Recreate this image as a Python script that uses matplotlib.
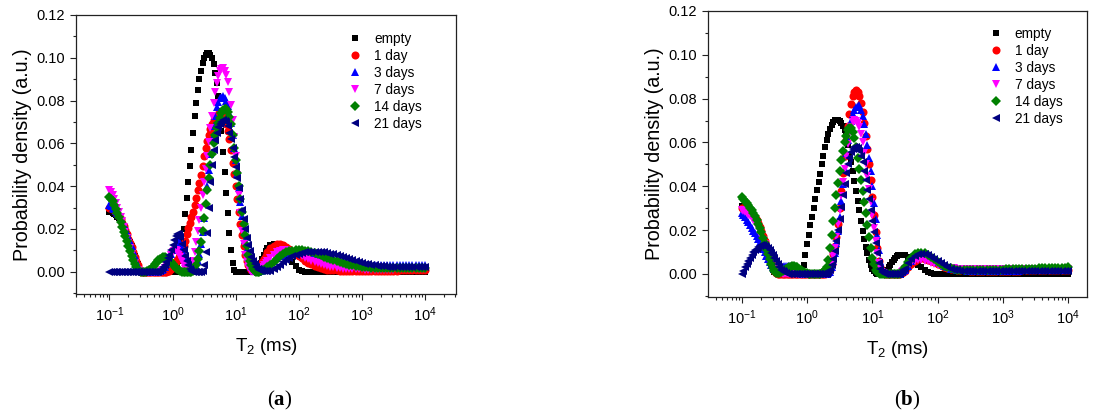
import numpy as np
import matplotlib
matplotlib.use("Agg")
import matplotlib.pyplot as plt
from matplotlib.ticker import MultipleLocator, FixedLocator, FormatStrFormatter, LogFormatterSciNotation

plt.rcParams['font.family'] = ['Liberation Sans', 'DejaVu Sans']
plt.rcParams['mathtext.fontset'] = 'custom'
plt.rcParams['mathtext.rm'] = 'Liberation Sans'
plt.rcParams['mathtext.it'] = 'Liberation Sans:italic'
plt.rcParams['mathtext.bf'] = 'Liberation Serif:bold'

# T2 sampling grid (ms): 40 pts/decade for 0.1..31.6 ms, 20 pts/decade for 35.5..10^4 ms
T2 = np.concatenate([np.logspace(-1, 1.5, 101), np.logspace(1.55, 4, 50)])

labels = ["empty", "1 day", "3 days", "7 days", "14 days", "21 days"]
colors = ["#000000", "#FF0000", "#0000FF", "#FF00FF", "#008000", "#000080"]
markers = ["s", "o", "^", "v", "D", "<"]

# ---------------- panel (a) ----------------
a_empty = [0.028, 0.0278, 0.0275, 0.027, 0.0265, 0.0258, 0.025, 0.0238, 0.0225, 0.021, 0.0195, 0.0178, 0.016, 0.014, 0.012, 0.0098, 0.0075, 0.0055, 0.0035, 0.0018, 0.0005,
           0, 0, 0, 0, 0, 0, 0, 0, 0, 0, 0, 0, 0, 0, 0, 0, 0, 0, 0, 0,
           0, 0, 0.002, 0.005, 0.009, 0.014, 0.020, 0.027, 0.0345, 0.042, 0.0495, 0.057, 0.065, 0.073, 0.079, 0.085, 0.090, 0.094, 0.0975, 0.100,
           0.1015, 0.1023, 0.1022, 0.1015, 0.0998, 0.097, 0.093, 0.088, 0.082, 0.075, 0.066, 0.056, 0.0465, 0.037, 0.0275, 0.018, 0.010, 0.004, 0.001, 0,
           0, 0, 0, 0, 0, 0, 0, 0, 0, 0, 0, 0, 0, 0, 0.0015, 0.004, 0.006, 0.008, 0.0097, 0.011,
           0.0125, 0.013, 0.0125, 0.0115, 0.010, 0.0085, 0.0065, 0.0045, 0.0025, 0.001, 0.0003, 0, 0, 0, 0, 0, 0, 0, 0, 0,
           0, 0, 0, 0, 0, 0, 0, 0, 0, 0, 0, 0, 0, 0, 0, 0, 0, 0, 0, 0, 0, 0, 0, 0, 0, 0, 0, 0, 0, 0]
a_1d = [0.030, 0.0298, 0.0295, 0.0288, 0.028, 0.027, 0.026, 0.0246, 0.023, 0.0213, 0.0195, 0.0175, 0.0155, 0.0135, 0.0115, 0.0092, 0.007, 0.005, 0.003, 0.0012, 0,
        0, 0, 0, 0, 0, 0, 0, 0, 0, 0, 0, 0, 0, 0, 0, 0, 0.0002, 0.0005, 0.0012, 0.002,
        0.003, 0.0045, 0.0057, 0.007, 0.0083, 0.0098, 0.012, 0.0145, 0.0175, 0.0205, 0.023, 0.0257, 0.028, 0.031, 0.0345, 0.038, 0.0415, 0.045, 0.0495, 0.054,
        0.058, 0.061, 0.064, 0.0665, 0.069, 0.071, 0.0722, 0.073, 0.0737, 0.074, 0.0737, 0.073, 0.0715, 0.069, 0.066, 0.062, 0.057, 0.051, 0.0455, 0.040,
        0.034, 0.028, 0.0225, 0.017, 0.012, 0.008, 0.005, 0.003, 0.0018, 0.001, 0.0006, 0.0005, 0.0006, 0.001, 0.0018, 0.003, 0.0045, 0.006, 0.0075, 0.009,
        0.011, 0.0122, 0.0128, 0.0128, 0.0123, 0.0115, 0.0105, 0.0093, 0.0082, 0.0072, 0.0062, 0.0052, 0.0043, 0.0035, 0.0028, 0.0022, 0.0017, 0.0013, 0.001, 0.0008,
        0.0007, 0.0006, 0.0005, 0.0005, 0.0004, 0.0004, 0.0004, 0.0004, 0.0004, 0.0004, 0.0004, 0.0004, 0.0004, 0.0004, 0.0004,
        0.0005, 0.0005, 0.0005, 0.0005, 0.0005, 0.0005, 0.0006, 0.0006, 0.0006, 0.0006, 0.0007, 0.0007, 0.0007, 0.0008, 0.0008]
a_3d = [0.031, 0.0306, 0.030, 0.0293, 0.0285, 0.0276, 0.0265, 0.0253, 0.024, 0.0223, 0.0205, 0.0186, 0.0165, 0.0143, 0.012, 0.0097, 0.0075, 0.0052, 0.003, 0.0015, 0.0005,
        0, 0, 0, 0, 0, 0, 0, 0, 0, 0, 0.0002, 0.0005, 0.001, 0.0015, 0.0024, 0.0035, 0.005, 0.0065, 0.0082, 0.010,
        0.012, 0.0135, 0.0143, 0.0145, 0.0133, 0.011, 0.0085, 0.006, 0.0038, 0.002, 0.0008, 0.0003, 0.0005, 0.001, 0.0025, 0.005, 0.0085, 0.013, 0.0185, 0.025,
        0.032, 0.040, 0.0475, 0.055, 0.062, 0.068, 0.073, 0.077, 0.0795, 0.081, 0.0818, 0.082, 0.0813, 0.080, 0.0775, 0.074, 0.0695, 0.064, 0.058, 0.052,
        0.0455, 0.039, 0.0325, 0.026, 0.0203, 0.015, 0.0105, 0.007, 0.004, 0.002, 0.001, 0.0005, 0.0002, 0, 0.0002, 0.0005, 0.0009, 0.0013, 0.0019, 0.0025,
        0.0038, 0.005, 0.0062, 0.0072, 0.008, 0.0086, 0.009, 0.0092, 0.0093, 0.0093, 0.0091, 0.0088, 0.0085, 0.0081, 0.0077, 0.0073, 0.0069, 0.0065, 0.0061, 0.0057,
        0.0053, 0.0049, 0.0046, 0.0043, 0.0041, 0.0039, 0.0037, 0.0035, 0.0034, 0.0033, 0.0032, 0.0031, 0.0031, 0.003, 0.003,
        0.003, 0.003, 0.003, 0.003, 0.003, 0.003, 0.003, 0.003, 0.003, 0.003, 0.003, 0.003, 0.003, 0.003, 0.003]
a_7d = [0.038, 0.0373, 0.036, 0.0342, 0.032, 0.030, 0.028, 0.0258, 0.0235, 0.021, 0.0185, 0.016, 0.0135, 0.011, 0.0085, 0.006, 0.004, 0.002, 0.0008, 0.0002, 0,
        0, 0, 0, 0, 0, 0, 0, 0, 0, 0, 0, 0, 0.0004, 0.001, 0.0018, 0.003, 0.0047, 0.0065, 0.008, 0.0092,
        0.0099, 0.010, 0.0096, 0.0085, 0.0068, 0.005, 0.003, 0.0015, 0.0005, 0, 0.0006, 0.002, 0.005, 0.009, 0.0138, 0.019, 0.0243, 0.030, 0.036, 0.042,
        0.048, 0.054, 0.0605, 0.067, 0.073, 0.079, 0.084, 0.088, 0.0915, 0.094, 0.0948, 0.095, 0.094, 0.092, 0.0885, 0.084, 0.078, 0.071, 0.063, 0.054,
        0.045, 0.036, 0.0275, 0.019, 0.013, 0.008, 0.0045, 0.002, 0.0008, 0, 0, 0, 0.0002, 0.0005, 0.001, 0.0015, 0.0022, 0.003, 0.0039, 0.0048,
        0.0065, 0.008, 0.009, 0.0097, 0.010, 0.010, 0.0098, 0.0093, 0.0087, 0.008, 0.0073, 0.0066, 0.0059, 0.0052, 0.0046, 0.004, 0.0035, 0.003, 0.0026, 0.0023,
        0.002, 0.0018, 0.0016, 0.0015, 0.0014, 0.0013, 0.0012, 0.0012, 0.0011, 0.0011, 0.001, 0.001, 0.001, 0.001, 0.001,
        0.001, 0.001, 0.001, 0.001, 0.001, 0.0011, 0.0011, 0.0011, 0.0011, 0.0011, 0.0012, 0.0012, 0.0012, 0.0012, 0.0012]
a_14d = [0.035, 0.0342, 0.033, 0.0314, 0.0295, 0.0276, 0.0255, 0.0233, 0.021, 0.0188, 0.0165, 0.0143, 0.012, 0.0097, 0.0075, 0.0055, 0.0035, 0.002, 0.0008, 0.0002, 0,
         0, 0, 0.0001, 0.0003, 0.0006, 0.001, 0.0017, 0.0025, 0.0035, 0.0045, 0.0053, 0.006, 0.0065, 0.0068, 0.0068, 0.0065, 0.0059, 0.0052, 0.0044, 0.0035,
         0.0026, 0.0018, 0.0011, 0.0006, 0.0002, 0, 0, 0, 0, 0, 0, 0, 0.0004, 0.001, 0.003, 0.006, 0.0095, 0.014, 0.019, 0.025,
         0.0315, 0.038, 0.044, 0.050, 0.055, 0.060, 0.0637, 0.067, 0.0697, 0.072, 0.074, 0.0755, 0.0761, 0.076, 0.0748, 0.0725, 0.069, 0.064, 0.058, 0.052,
         0.046, 0.040, 0.034, 0.028, 0.0225, 0.017, 0.012, 0.008, 0.0052, 0.003, 0.0015, 0.0005, 0.0001, 0, 0.0001, 0.0003, 0.0006, 0.001, 0.0015, 0.002,
         0.0033, 0.0046, 0.006, 0.0072, 0.0082, 0.009, 0.0095, 0.0099, 0.0101, 0.0102, 0.0101, 0.0099, 0.0096, 0.0092, 0.0087, 0.0082, 0.0077, 0.0071, 0.0066, 0.006,
         0.0055, 0.005, 0.0045, 0.0041, 0.0037, 0.0033, 0.003, 0.0027, 0.0025, 0.0023, 0.0021, 0.002, 0.0019, 0.0018, 0.0017,
         0.0016, 0.0016, 0.0016, 0.0016, 0.0016, 0.0016, 0.0016, 0.0016, 0.0016, 0.0016, 0.0016, 0.0016, 0.0016, 0.0016, 0.0016]
a_21d = [0, 0, 0, 0, 0, 0, 0, 0, 0, 0, 0, 0, 0, 0, 0, 0, 0, 0, 0, 0, 0,
         0, 0, 0, 0, 0, 0, 0, 0, 0, 0, 0.0001, 0.0005, 0.0011, 0.002, 0.0031, 0.0045, 0.0062, 0.008, 0.0102, 0.0125,
         0.0148, 0.0168, 0.0178, 0.0178, 0.0162, 0.013, 0.0102, 0.0075, 0.005, 0.003, 0.0014, 0.0005, 0.0001, 0, 0, 0, 0, 0, 0.0005, 0.003,
         0.009, 0.018, 0.030, 0.042, 0.050, 0.057, 0.0615, 0.065, 0.0675, 0.069, 0.0702, 0.0707, 0.0706, 0.070, 0.068, 0.065, 0.062, 0.058, 0.0537, 0.049,
         0.044, 0.039, 0.034, 0.029, 0.0245, 0.020, 0.016, 0.0125, 0.0097, 0.007, 0.005, 0.0035, 0.0024, 0.0015, 0.001, 0.0006, 0.0004, 0.0002, 0.0002, 0.0002,
         0.0005, 0.0012, 0.0022, 0.0033, 0.0044, 0.0055, 0.0064, 0.0072, 0.0079, 0.0084, 0.0088, 0.009, 0.0092, 0.0093, 0.0093, 0.0093, 0.0092, 0.009, 0.0088, 0.0085,
         0.0082, 0.0078, 0.0074, 0.007, 0.0065, 0.006, 0.0055, 0.005, 0.0046, 0.0042, 0.0038, 0.0035, 0.0032, 0.003, 0.0028,
         0.0026, 0.0025, 0.0024, 0.0023, 0.0023, 0.0023, 0.0023, 0.0023, 0.0023, 0.0022, 0.0022, 0.0022, 0.0022, 0.0022, 0.0022]

# ---------------- panel (b) ----------------
b_empty = [0.031, 0.0308, 0.0305, 0.030, 0.0295, 0.0288, 0.028, 0.027, 0.0258, 0.0245, 0.023, 0.0213, 0.0195, 0.0173, 0.015, 0.0123, 0.0095, 0.0067, 0.004, 0.002, 0.001,
           0.0003, 0, 0, 0, 0, 0, 0, 0, 0, 0, 0, 0, 0, 0, 0, 0, 0.001, 0.004, 0.0085, 0.0135,
           0.018, 0.0225, 0.026, 0.030, 0.034, 0.0385, 0.042, 0.0455, 0.050, 0.054, 0.0578, 0.061, 0.0638, 0.066, 0.068, 0.0695, 0.0702, 0.0704, 0.0703, 0.070,
           0.069, 0.0675, 0.0658, 0.0635, 0.059, 0.0545, 0.051, 0.047, 0.0425, 0.038, 0.0335, 0.029, 0.024, 0.0195, 0.016, 0.0125, 0.0095, 0.0065, 0.0043, 0.0025,
           0.0013, 0.0005, 0.0002, 0, 0, 0, 0.0004, 0.001, 0.002, 0.003, 0.0043, 0.0055, 0.0065, 0.0075, 0.0081, 0.0085, 0.0087, 0.0087, 0.0086, 0.0085,
           0.0078, 0.0068, 0.0056, 0.0043, 0.0031, 0.002, 0.0011, 0.0005, 0.0001, 0, 0, 0, 0, 0, 0, 0, 0, 0, 0, 0,
           0, 0, 0, 0, 0, 0, 0, 0, 0, 0, 0, 0, 0, 0, 0, 0, 0, 0, 0, 0, 0, 0, 0, 0, 0, 0, 0, 0, 0, 0]
b_1d = [0.030, 0.0299, 0.0297, 0.0294, 0.029, 0.0285, 0.0278, 0.027, 0.026, 0.0247, 0.0232, 0.0215, 0.0195, 0.0173, 0.015, 0.0125, 0.010, 0.0075, 0.005, 0.003, 0.0015,
        0.0005, 0, 0, 0, 0, 0, 0, 0, 0, 0, 0, 0, 0, 0, 0, 0, 0, 0, 0, 0,
        0, 0, 0, 0, 0, 0, 0, 0, 0, 0, 0.0002, 0.0005, 0.001, 0.002, 0.0045, 0.009, 0.0128, 0.017, 0.023, 0.030,
        0.038, 0.046, 0.054, 0.061, 0.0675, 0.073, 0.0775, 0.081, 0.083, 0.084, 0.083, 0.081, 0.078, 0.074, 0.069, 0.063, 0.057, 0.050, 0.043, 0.035,
        0.027, 0.019, 0.012, 0.006, 0.003, 0.001, 0.0003, 0, 0, 0, 0, 0, 0, 0, 0, 0, 0, 0.0005, 0.001, 0.0015,
        0.003, 0.0047, 0.006, 0.0068, 0.0071, 0.007, 0.0066, 0.006, 0.0053, 0.0046, 0.004, 0.0034, 0.0029, 0.0025, 0.0022, 0.002, 0.0018, 0.0017, 0.0016, 0.0015,
        0.0015, 0.0015, 0.0015, 0.0015, 0.0015, 0.0015, 0.0015, 0.0015, 0.0015, 0.0015, 0.0015, 0.0015, 0.0015, 0.0015, 0.0015,
        0.0016, 0.0016, 0.0016, 0.0016, 0.0016, 0.0016, 0.0016, 0.0016, 0.0016, 0.0016, 0.0017, 0.0017, 0.0017, 0.0017, 0.0017]
b_3d = [0.028, 0.027, 0.026, 0.0248, 0.0235, 0.0223, 0.021, 0.0198, 0.0185, 0.0173, 0.016, 0.0145, 0.013, 0.0115, 0.010, 0.0084, 0.0068, 0.0053, 0.004, 0.0031, 0.0025,
        0.0024, 0.0025, 0.0027, 0.003, 0.0033, 0.0035, 0.0037, 0.0038, 0.0037, 0.0035, 0.003, 0.0025, 0.0018, 0.0012, 0.0007, 0.0004, 0.0001, 0, 0, 0,
        0, 0, 0, 0, 0, 0, 0, 0, 0, 0, 0, 0, 0.0003, 0.001, 0.003, 0.006, 0.0095, 0.014, 0.0195, 0.026,
        0.0335, 0.041, 0.048, 0.055, 0.061, 0.066, 0.070, 0.073, 0.075, 0.076, 0.0768, 0.077, 0.075, 0.072, 0.0685, 0.064, 0.059, 0.053, 0.047, 0.040,
        0.0325, 0.025, 0.018, 0.011, 0.006, 0.002, 0.0005, 0, 0, 0, 0, 0, 0, 0, 0, 0, 0, 0.0008, 0.0014, 0.002,
        0.0038, 0.0057, 0.0072, 0.0082, 0.0086, 0.0085, 0.008, 0.0072, 0.0063, 0.0053, 0.0044, 0.0036, 0.003, 0.0025, 0.0021, 0.0019, 0.0017, 0.0016, 0.0015, 0.0015,
        0.0015, 0.0015, 0.0015, 0.0015, 0.0015, 0.0015, 0.0015, 0.0015, 0.0015, 0.0015, 0.0015, 0.0015, 0.0015, 0.0015, 0.0015,
        0.0016, 0.0016, 0.0016, 0.0016, 0.0016, 0.0016, 0.0016, 0.0016, 0.0016, 0.0016, 0.0018, 0.0018, 0.0018, 0.0018, 0.0018]
b_7d = [0.029, 0.0287, 0.0282, 0.0277, 0.027, 0.0263, 0.0255, 0.0246, 0.0235, 0.0223, 0.021, 0.0193, 0.0175, 0.0155, 0.0135, 0.0113, 0.009, 0.0068, 0.0045, 0.0028, 0.0015,
        0.0009, 0.0005, 0.0004, 0.0003, 0.0001, 0, 0, 0, 0, 0, 0, 0, 0, 0, 0, 0, 0, 0, 0, 0,
        0, 0, 0, 0, 0, 0, 0, 0, 0, 0, 0, 0.0002, 0.0008, 0.002, 0.0045, 0.008, 0.012, 0.017, 0.0228, 0.029,
        0.0355, 0.042, 0.048, 0.054, 0.0595, 0.064, 0.067, 0.0695, 0.0702, 0.070, 0.069, 0.067, 0.064, 0.060, 0.055, 0.050, 0.0445, 0.039, 0.033, 0.027,
        0.021, 0.015, 0.0095, 0.005, 0.0025, 0.001, 0.0003, 0, 0, 0, 0, 0, 0, 0, 0, 0, 0, 0.0008, 0.0015, 0.0022,
        0.0038, 0.005, 0.0058, 0.0062, 0.0063, 0.0061, 0.0057, 0.0052, 0.0046, 0.0041, 0.0036, 0.0032, 0.0029, 0.0027, 0.0026, 0.0025, 0.0025, 0.0025, 0.0025, 0.0025,
        0.0025, 0.0025, 0.0025, 0.0025, 0.0025, 0.0025, 0.0025, 0.0025, 0.0025, 0.0025, 0.0025, 0.0025, 0.0025, 0.0025, 0.0025,
        0.0025, 0.0025, 0.0025, 0.0025, 0.0025, 0.0025, 0.0025, 0.0025, 0.0025, 0.0025, 0.0025, 0.0025, 0.0025, 0.0025, 0.0025]
b_14d = [0.035, 0.0343, 0.0335, 0.0326, 0.0315, 0.0303, 0.029, 0.0278, 0.0265, 0.0248, 0.023, 0.021, 0.019, 0.0165, 0.014, 0.0115, 0.009, 0.0067, 0.0045, 0.0028, 0.0015,
         0.0006, 0.0003, 0.0005, 0.0008, 0.0013, 0.0018, 0.0023, 0.0028, 0.0031, 0.0034, 0.0035, 0.0035, 0.0033, 0.003, 0.0025, 0.002, 0.0015, 0.001, 0.0006, 0.0003,
         0.0001, 0, 0, 0, 0, 0, 0, 0, 0.0004, 0.001, 0.0018, 0.003, 0.0065, 0.012, 0.018, 0.024, 0.030, 0.036, 0.0415, 0.047,
         0.052, 0.056, 0.060, 0.063, 0.0655, 0.0668, 0.0665, 0.065, 0.062, 0.058, 0.053, 0.048, 0.043, 0.038, 0.033, 0.028, 0.0225, 0.017, 0.012, 0.0075,
         0.0045, 0.002, 0.001, 0.0005, 0.0002, 0, 0, 0, 0, 0, 0, 0, 0, 0, 0, 0, 0, 0.001, 0.002, 0.003,
         0.0055, 0.0075, 0.0089, 0.0096, 0.0098, 0.0095, 0.0088, 0.0078, 0.0067, 0.0056, 0.0046, 0.0038, 0.0031, 0.0026, 0.0022, 0.002, 0.0019, 0.0019, 0.0019, 0.0019,
         0.0019, 0.0019, 0.0019, 0.0019, 0.0019, 0.002, 0.002, 0.002, 0.002, 0.002, 0.0021, 0.0021, 0.0021, 0.0021, 0.0021,
         0.0023, 0.0023, 0.0023, 0.0023, 0.0023, 0.0026, 0.0026, 0.0026, 0.0026, 0.0026, 0.0029, 0.0029, 0.0029, 0.0029, 0.0031]
b_21d = [0, 0.0015, 0.003, 0.0045, 0.006, 0.0075, 0.0088, 0.0099, 0.0108, 0.0116, 0.0122, 0.0127, 0.013, 0.013, 0.0129, 0.0125, 0.0118, 0.0109, 0.0098, 0.0086, 0.0072,
         0.0058, 0.0045, 0.0032, 0.002, 0.0013, 0.0008, 0.0004, 0.0002, 0, 0, 0, 0, 0, 0, 0, 0, 0, 0, 0, 0,
         0, 0, 0, 0, 0, 0, 0, 0, 0, 0, 0, 0, 0.0008, 0.002, 0.004, 0.007, 0.0105, 0.015, 0.020, 0.025,
         0.0305, 0.036, 0.041, 0.046, 0.050, 0.053, 0.0555, 0.057, 0.0578, 0.058, 0.0575, 0.056, 0.054, 0.051, 0.047, 0.043, 0.0385, 0.034, 0.029, 0.024,
         0.019, 0.014, 0.0095, 0.005, 0.0025, 0.001, 0.0003, 0, 0, 0, 0, 0, 0, 0, 0, 0, 0, 0.0008, 0.0016, 0.0025,
         0.0048, 0.0068, 0.0082, 0.009, 0.0093, 0.0092, 0.0087, 0.0079, 0.0069, 0.0058, 0.0048, 0.0039, 0.0031, 0.0025, 0.002, 0.0016, 0.0014, 0.0013, 0.0012, 0.0012,
         0.0012, 0.0012, 0.0012, 0.0012, 0.0012, 0.0012, 0.0012, 0.0012, 0.0012, 0.0012, 0.0012, 0.0012, 0.0012, 0.0012, 0.0012,
         0.0012, 0.0012, 0.0012, 0.0012, 0.0012, 0.0013, 0.0013, 0.0013, 0.0013, 0.0013, 0.0013, 0.0013, 0.0013, 0.0013, 0.0013]

panel_a = [a_empty, a_1d, a_3d, a_7d, a_14d, a_21d]
panel_b = [b_empty, b_1d, b_3d, b_7d, b_14d, b_21d]

msizes = [5.0, 5.8, 6.4, 6.4, 5.2, 6.4]

fig = plt.figure(figsize=(10.93, 4.19), dpi=100)
ax1 = fig.add_axes([76/1093, 1-294/419, 380/1093, 279/419])
ax2 = fig.add_axes([708/1093, 1-297/419, 379/1093, 286/419])


def draw(ax, series, xlim, ylim, leg_xy):
    for y, lab, c, m, s in zip(series, labels, colors, markers, msizes):
        ax.plot(T2, y, linestyle='none', marker=m, ms=s, color=c,
                markeredgewidth=0, label=lab)
    ax.set_xscale('log')
    ax.set_xlim(*xlim)
    ax.set_ylim(*ylim)
    ax.yaxis.set_major_locator(MultipleLocator(0.02))
    ax.yaxis.set_minor_locator(MultipleLocator(0.01))
    ax.yaxis.set_major_formatter(FormatStrFormatter('%.2f'))
    major = [10.0 ** k for k in range(-1, 5)]
    minor = [m * 10.0 ** k for k in range(-2, 5) for m in range(2, 10)
             if xlim[0] <= m * 10.0 ** k <= xlim[1]]
    ax.xaxis.set_major_locator(FixedLocator(major))
    ax.xaxis.set_minor_locator(FixedLocator(minor))
    ax.xaxis.set_major_formatter(LogFormatterSciNotation())
    ax.tick_params(which='both', direction='out', top=False, right=False,
                   labelsize=10.5, width=0.8, colors='#222222', labelcolor='black')
    ax.tick_params(which='major', length=4.5)
    ax.tick_params(which='minor', length=2.5)
    for sp in ax.spines.values():
        sp.set_linewidth(0.9)
        sp.set_color('#222222')
    ax.set_ylabel("Probability density (a.u.)", fontsize=14.2, labelpad=3)
    ax.set_xlabel(r"T$_{\mathdefault{2}}$ (ms)", fontsize=13.5, labelpad=9)
    ax.legend(loc='upper left', bbox_to_anchor=leg_xy, frameon=False, fontsize=9.8,
              handlelength=1.0, handletextpad=0.9, labelspacing=0.22,
              borderpad=0, borderaxespad=0)


draw(ax1, panel_a, (0.0295, 31000), (-0.0104, 0.12), (0.716, 0.94))
draw(ax2, panel_b, (0.0303, 19500), (-0.0105, 0.12), (0.741, 0.944))

for xc, letter in [(280/1093, 'a'), (907/1093, 'b')]:
    fig.text(xc, 1-400/419, r"($\mathbf{%s}$)" % letter, ha='center', va='center',
             fontsize=15, family=['Liberation Serif', 'DejaVu Serif'])

fig.savefig("out.png", dpi=100)
